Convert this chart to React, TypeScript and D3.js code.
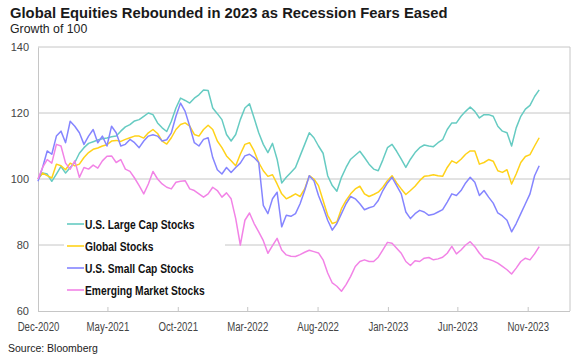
import React, { useRef, useEffect } from 'react';
import * as d3 from 'd3';

// readings every 10 days from Dec-2020, growth of 100
const largeCap = [
  100, 101.8, 101.5, 99.3, 101.5, 103.8, 101.8, 103.5, 105, 107.8,
  109.5, 110.8, 111.3, 111.8, 112.2, 112.4, 112.8, 113, 114.5, 115.8,
  116.5, 117.6, 118, 119, 120, 119.5, 117, 115.5, 114.4, 117.5,
  121.5, 124.5, 123.8, 123, 124.5, 125.5, 127, 126.8, 121.5, 119.8,
  118, 113.5, 111.5, 113.5, 118, 121.5, 122.8, 118.5, 114, 110.5,
  108, 110.8, 106, 98.8, 100.5, 102, 103.5, 107, 110.5, 114,
  112.5, 110, 107.8, 101, 98, 96.3, 100.5, 103.5, 106, 107.2,
  108.4, 106.5, 104.5, 103, 102.5, 105.8, 109.5, 110.5, 108.4, 106,
  103.5, 106, 108, 109.5, 110.3, 110, 109.8, 111, 111.9, 115,
  117, 117, 119, 120.5, 121.8, 120.5, 118.5, 119.5, 119.5, 119,
  116, 114.5, 114, 110, 115.5, 119, 121.2, 122.3, 125, 127,
];

const globalStocks = [
  100, 101.8, 101, 100.3, 104.5, 104, 102.8, 104.8, 104, 104.5,
  106.5, 108, 109, 109.4, 110, 110.4, 111.5, 111.7, 111.4, 112,
  112.5, 113, 113, 112.4, 114, 115, 113.8, 111.5, 110.6, 112.5,
  115, 116.5, 117, 116, 113.5, 113, 115, 116.3, 115, 111.5,
  109.5, 107, 105.5, 104, 107.5, 110.5, 111, 108.5, 105, 102.5,
  100.8, 101.3, 98.5, 95.5, 94, 94.7, 95.5, 94.7, 97, 101,
  100, 98, 93.5, 89, 86.5, 87, 91, 93.5, 95.5, 97,
  97.8, 95.5, 94.7, 95.3, 96, 97.5, 99.5, 101, 98.8, 97,
  95.3, 96.5, 97.8, 99.5, 100.8, 101, 101.3, 101, 100.8, 103.5,
  105.5, 104.8, 106, 107.5, 108.5, 108.5, 104.5, 105, 105.9, 105.4,
  102.5, 102, 102.8, 98.5, 101.5, 105, 106.8, 107.4, 110, 112.5,
];

const smallCap = [
  99.3, 103.5, 108.5, 107.5, 113, 114.5, 111, 117.5, 116, 114,
  110.5, 113, 115, 111, 113, 110, 116, 114, 110, 110.5,
  112, 111, 109.5, 111.5, 113, 113.4, 113, 111.5, 111.9, 114,
  119, 123, 120.5, 116, 111, 110, 112, 112.5, 106.5, 102.8,
  101.5, 103.5, 102, 103.5, 104.8, 107, 107.5, 106.5, 105, 92,
  89.5, 94, 96, 85.5, 89, 88.7, 89.5, 92.5, 96.5, 101,
  99.5, 95, 91.5, 87.5, 84.5, 86.5, 89.5, 92.5, 94.7, 94,
  92.5, 90.7, 91.3, 91.7, 93.5, 96.5, 98.8, 100.5, 98, 95.5,
  90, 88, 89.5, 90.5, 90, 89, 89.3, 90, 90.7, 93,
  95.5, 95, 96.5, 98.8, 100.5, 99, 95, 96.5, 94.5, 92.7,
  89.7, 88.8, 87.5, 84, 86.5, 89.5, 92.5, 95.5, 101, 104,
];

const emerging = [
  100, 103.5, 105.9, 104.8, 110.5, 110, 104.8, 103, 105.5, 100.5,
  103.5, 103, 104.2, 103.3, 105.5, 106.9, 107, 105, 105.9, 103,
  102.3, 100.3, 98, 95.5, 98.5, 102.3, 100, 98.5, 97.5, 97,
  99, 99.3, 99.5, 97, 96.5, 95.5, 94.5, 95.5, 97.5, 96.5,
  94.5, 95.8, 94, 88, 80, 87.5, 89.7, 86.5, 84, 81.3,
  77.5, 79.8, 82, 78.5, 77, 76.6, 76.5, 77.1, 77.8, 78.4,
  78, 77.6, 75.5, 71.5, 68.5, 67.5, 66, 68, 70.5, 73.5,
  75, 75.5, 75, 75, 76.3, 78.5, 80.8, 80.5, 79, 77.5,
  75, 73.8, 75.2, 75, 76, 76.2, 75.5, 75.8, 76.3, 77.5,
  79.6, 77.3, 78.5, 80, 81, 79.5, 77.5, 76, 75.7, 75.2,
  74.5, 73.5, 72.5, 71.2, 73, 75, 76, 75.5, 77.3, 79.5,
];

const seriesNames = ['U.S. Large Cap Stocks', 'Global Stocks', 'U.S. Small Cap Stocks', 'Emerging Market Stocks'];
const seriesValues = [largeCap, globalStocks, smallCap, emerging];
const seriesColors = ['#66cbc2', '#ffd21a', '#8585ff', '#f283e6'];

const xTickLabels = ['Dec-2020', 'May-2021', 'Oct-2021', 'Mar-2022', 'Aug-2022', 'Jan-2023', 'Jun-2023', 'Nov-2023'];
const yTicks = [60, 80, 100, 120, 140];

const W = 576;
const H = 360;
const FONT = 'Liberation Sans, Arial, sans-serif';

// no narrow font installed: squeeze the glyphs like Arial Narrow
const narrow = (sel: d3.Selection<any, any, any, any>, k: number) => {
  sel.each(function () {
    const t = this as SVGTextElement;
    const w = t.getComputedTextLength();
    t.setAttribute('textLength', String(w * k));
    t.setAttribute('lengthAdjust', 'spacingAndGlyphs');
  });
};

const App: React.FC = () => {
  const svgRef = useRef<SVGSVGElement | null>(null);

  useEffect(() => {
    if (!svgRef.current) return;
    const svg = d3.select(svgRef.current);
    svg.selectAll('*').remove();

    const start = new Date(2020, 11, 1);
    const left = 38, right = 570, top = 47, bottom = 311;

    const x = d3.scaleTime()
      .domain([start, new Date(2024, 1, 1)])
      .range([left, right]);
    const y = d3.scaleLinear().domain([60, 140]).range([bottom, top]);

    const dates = largeCap.map((_, i) => d3.timeDay.offset(start, i * 10));
    const tickDates = xTickLabels.map((_, i) => d3.timeMonth.offset(start, i * 5));

    // title block
    svg.append('text')
      .attr('x', 10).attr('y', 18)
      .style('font-family', FONT)
      .style('font-size', '14.8px').style('font-weight', 'bold').attr('fill', '#1a1a1a')
      .text('Global Equities Rebounded in 2023 as Recession Fears Eased');
    svg.append('text')
      .attr('x', 10).attr('y', 33)
      .style('font-family', FONT)
      .style('font-size', '12.3px').attr('fill', '#222')
      .text('Growth of 100');

    // grid + frame
    svg.append('g').selectAll('line')
      .data(yTicks.slice(1))
      .enter().append('line')
      .attr('x1', left).attr('x2', right)
      .attr('y1', d => y(d)).attr('y2', d => y(d))
      .attr('stroke', '#c6c6c6').attr('stroke-width', 1);
    svg.append('line')
      .attr('x1', right).attr('x2', right).attr('y1', top).attr('y2', bottom)
      .attr('stroke', '#c6c6c6');

    const yAxis = d3.axisLeft(y).tickValues(yTicks).tickSize(0).tickPadding(9);
    const gY = svg.append('g').attr('transform', `translate(${left},0)`).call(yAxis);
    gY.select('.domain').attr('stroke', '#c6c6c6');
    gY.selectAll('text')
      .style('font-family', FONT)
      .style('font-size', '11px').attr('fill', '#444');

    const xAxis = d3.axisBottom(x)
      .tickValues(tickDates)
      .tickFormat((_, i) => xTickLabels[i])
      .tickSize(-4).tickSizeOuter(0).tickPadding(11);
    const gX = svg.append('g').attr('transform', `translate(0,${bottom})`).call(xAxis);
    gX.select('.domain').attr('stroke', '#c6c6c6').attr('d', `M${left},0.5H${right}`);
    gX.selectAll('line').attr('stroke', '#c6c6c6');
    const xt = gX.selectAll('text')
      .style('font-family', FONT)
      .style('font-size', '12px').attr('fill', '#444');
    narrow(xt, 0.8);

    // lines
    const line = d3.line<number>()
      .x((_, i) => x(dates[i]))
      .y(d => y(d));
    seriesValues.forEach((vals, k) => {
      svg.append('path')
        .datum(vals)
        .attr('fill', 'none')
        .attr('stroke', seriesColors[k])
        .attr('stroke-width', 1.5)
        .attr('stroke-linejoin', 'round')
        .attr('d', line);
    });

    // legend
    const lg = svg.append('g');
    lg.append('rect')
      .attr('x', 64).attr('y', 212).attr('width', 161).attr('height', 90)
      .attr('fill', '#fff');
    seriesNames.forEach((name, k) => {
      const ly = 224 + k * 22;
      lg.append('line')
        .attr('x1', 67).attr('x2', 84).attr('y1', ly).attr('y2', ly)
        .attr('stroke', seriesColors[k]).attr('stroke-width', 1.6);
      const t = lg.append('text')
        .attr('x', 85).attr('y', ly + 4.5)
        .style('font-family', FONT)
        .style('font-size', '12.5px').style('font-weight', 'bold').attr('fill', '#111')
        .text(name);
      narrow(t, 0.82);
    });

    svg.append('text')
      .attr('x', 8).attr('y', 352)
      .style('font-family', FONT)
      .style('font-size', '10.5px').attr('fill', '#222')
      .text('Source: Bloomberg');
  }, []);

  return (
    <svg
      ref={svgRef}
      width={W}
      height={H}
      style={{ position: 'absolute', left: 0, top: 0, background: '#fff' }}
    />
  );
};

export default App;
